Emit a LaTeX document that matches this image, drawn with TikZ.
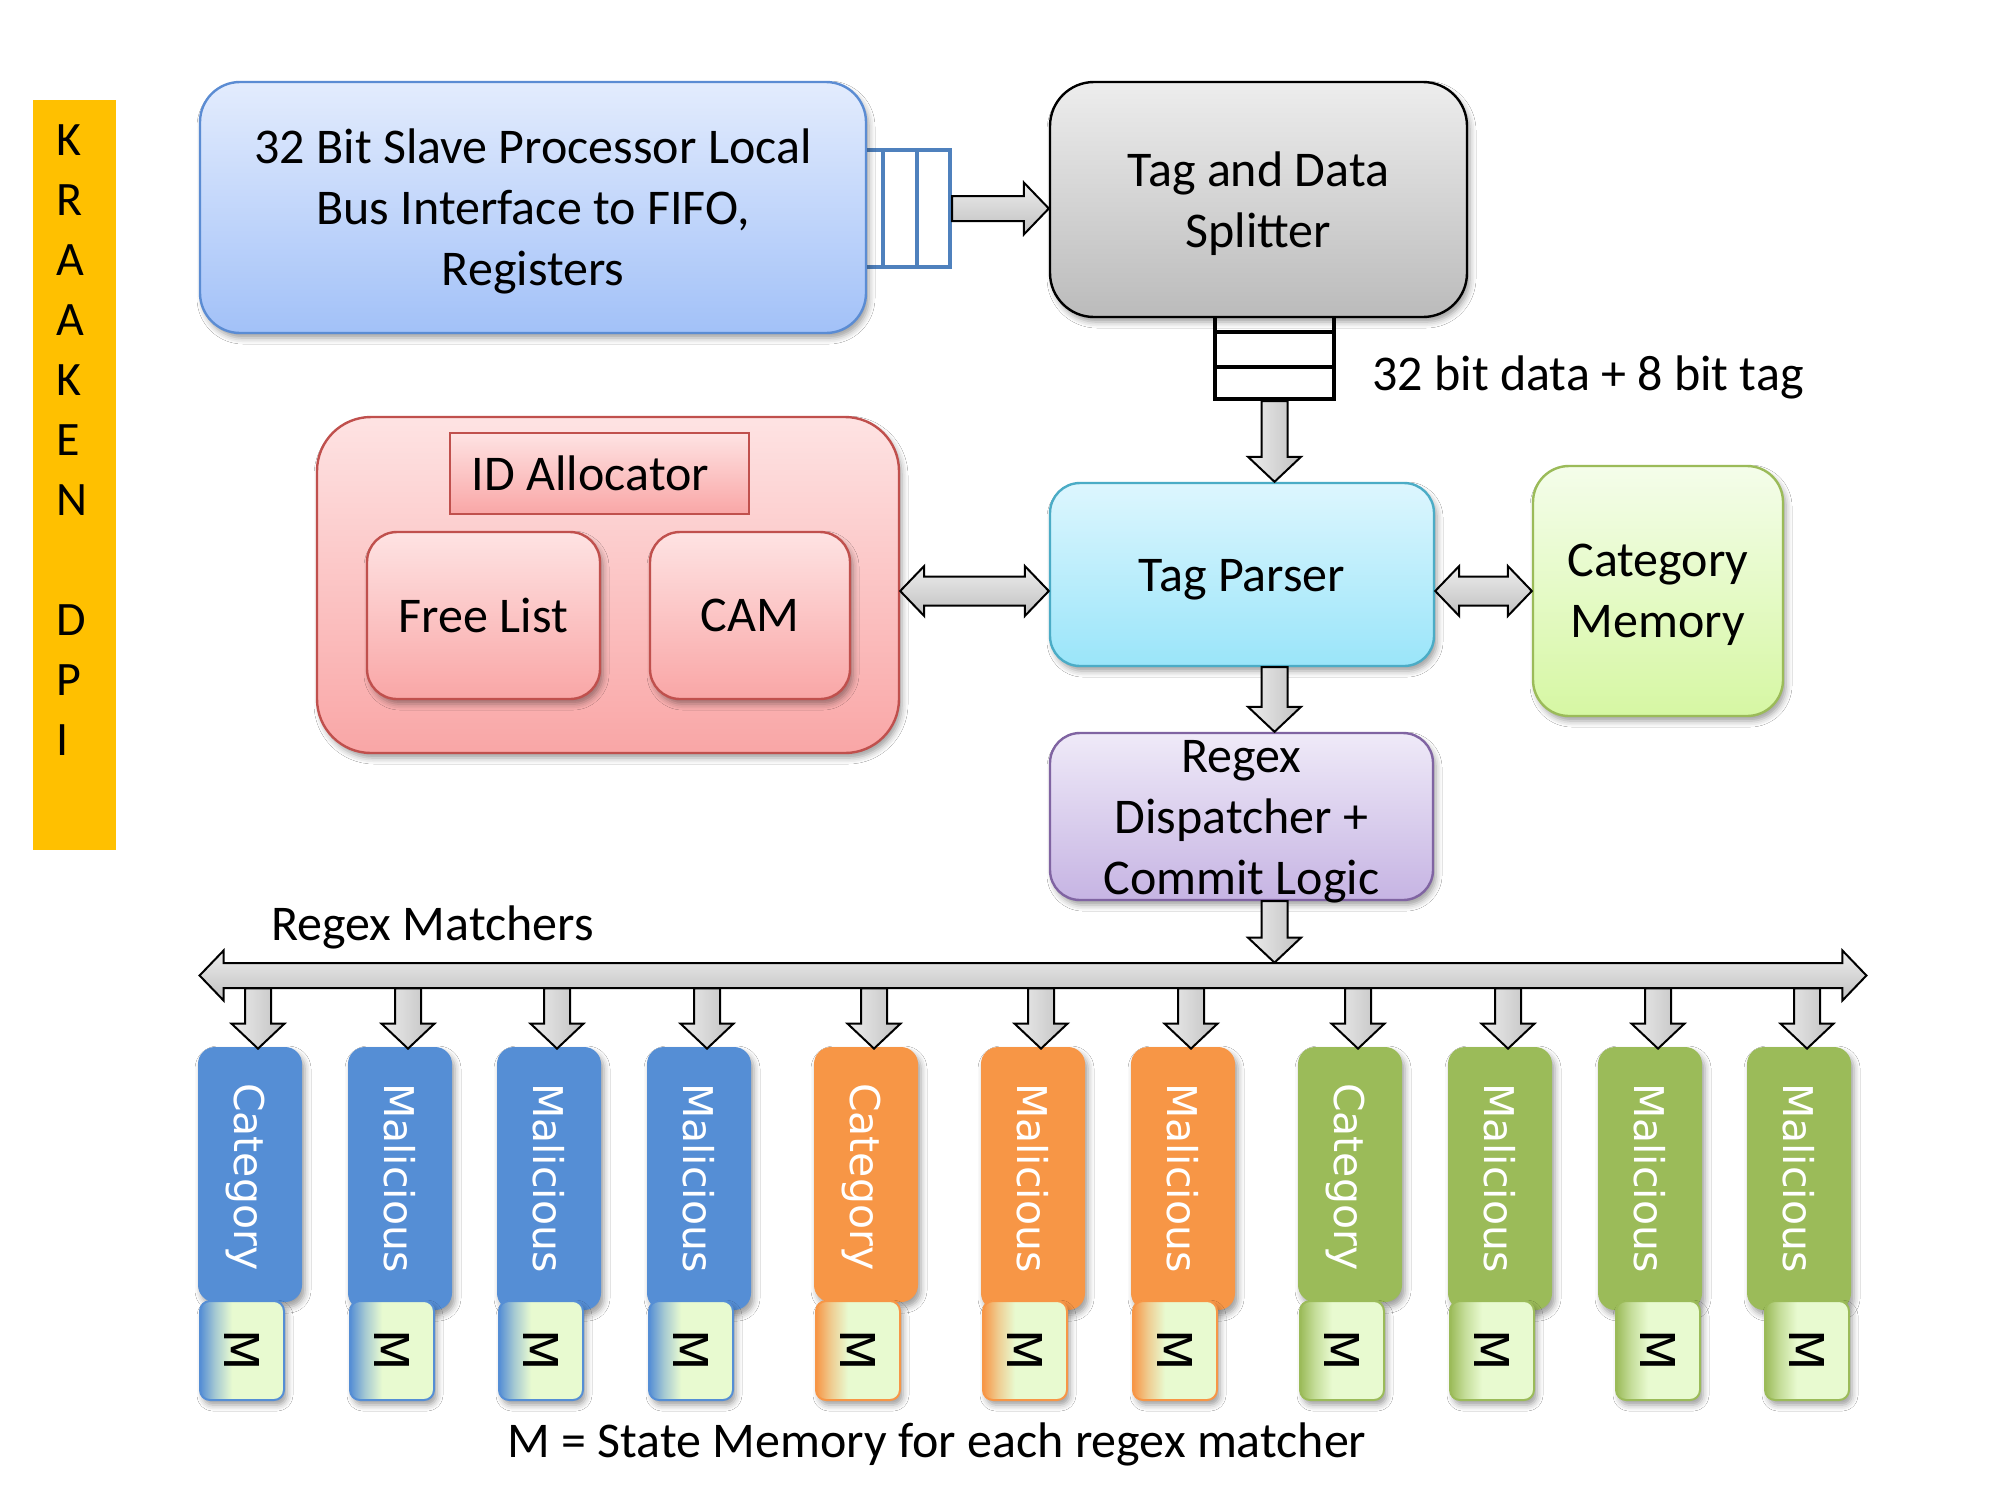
\documentclass[tikz,border=0pt]{standalone}
\usepackage{fontspec}
\usepackage{graphicx}
\setmainfont{Carlito}
\newfontfamily\vfont{DejaVu Sans}
\usetikzlibrary{calc,shadows.blur}

\definecolor{kyellow}{HTML}{FFC000}
\definecolor{bifTop}{HTML}{E3ECFD}\definecolor{bifBot}{HTML}{A2C1F8}\definecolor{bifDraw}{HTML}{5B8CD3}
\definecolor{fifoblue}{HTML}{4F81BD}
\definecolor{grTop}{HTML}{EDEDED}\definecolor{grBot}{HTML}{BBBBBB}
\definecolor{tpTop}{HTML}{DDF6FE}\definecolor{tpBot}{HTML}{9AE5F9}\definecolor{tpDraw}{HTML}{4BACC6}
\definecolor{cmTop}{HTML}{F4FDEA}\definecolor{cmBot}{HTML}{D6F7A3}\definecolor{cmDraw}{HTML}{9BBB59}
\definecolor{rxTop}{HTML}{EFEAF8}\definecolor{rxBot}{HTML}{C6B4E3}\definecolor{rxDraw}{HTML}{8064A2}
\definecolor{rdTop}{HTML}{FEE3E3}\definecolor{rdBot}{HTML}{F9A6A6}\definecolor{rdDraw}{HTML}{C0504D}
\definecolor{colblue}{HTML}{558ED5}\definecolor{colorange}{HTML}{F79646}\definecolor{colgreen}{HTML}{9BBB59}
\definecolor{mlight}{HTML}{E8FAD0}
\definecolor{arrA}{HTML}{EDEDED}\definecolor{arrB}{HTML}{C0C0C0}
\colorlet{midblue}{colblue!45!mlight}
\colorlet{midorange}{colorange!45!mlight}
\colorlet{midgreen}{colgreen!45!mlight}

\pgfdeclarehorizontalshading{mshblue}{100bp}{color(0bp)=(colblue); color(25bp)=(colblue); color(34bp)=(midblue); color(44bp)=(mlight); color(100bp)=(mlight)}
\pgfdeclarehorizontalshading{mshorange}{100bp}{color(0bp)=(colorange); color(25bp)=(colorange); color(34bp)=(midorange); color(44bp)=(mlight); color(100bp)=(mlight)}
\pgfdeclarehorizontalshading{mshgreen}{100bp}{color(0bp)=(colgreen); color(25bp)=(colgreen); color(34bp)=(midgreen); color(44bp)=(mlight); color(100bp)=(mlight)}

\newcommand{\mainfs}{\fontsize{25}{30.5}\selectfont}
\newcommand{\vfs}{\vfont\fontsize{20.5}{20.5}\selectfont}
\newcommand{\mfs}{\vfont\fontsize{24}{24}\selectfont}

% vertical block arrow: x and start y from #1, tip y from #2
\newcommand{\blkdown}[2]{\draw[blkv] let \p1=(#1), \p2=(#2) in
  (\x1-6.5pt,\y1) -- (\x1-6.5pt,\y2+12.5pt) -- (\x1-13.25pt,\y2+12.5pt) -- (\x1,\y2)
  -- (\x1+13.25pt,\y2+12.5pt) -- (\x1+6.5pt,\y2+12.5pt) -- (\x1+6.5pt,\y1) -- cycle;}
% horizontal block arrow: y and start x from #1, tip x from #2
\newcommand{\blkright}[2]{\draw[blkh] let \p1=(#1), \p2=(#2) in
  (\x1,\y1+6.25pt) -- (\x2-12.5pt,\y1+6.25pt) -- (\x2-12.5pt,\y1+13pt) -- (\x2,\y1)
  -- (\x2-12.5pt,\y1-13pt) -- (\x2-12.5pt,\y1-6.25pt) -- (\x1,\y1-6.25pt) -- cycle;}
% double block arrow: left tip #1, right tip x from #2, shaft half #3, head half #4, head length #5
\newcommand{\blkdouble}[5]{\draw[blkh] let \p1=(#1), \p2=(#2) in
  (\x1,\y1) -- (\x1+#5,\y1+#4) -- (\x1+#5,\y1+#3) -- (\x2-#5,\y1+#3) -- (\x2-#5,\y1+#4)
  -- (\x2,\y1) -- (\x2-#5,\y1-#4) -- (\x2-#5,\y1-#3) -- (\x1+#5,\y1-#3) -- (\x1+#5,\y1-#4) -- cycle;}

\begin{document}
\begin{tikzpicture}[x=0.5pt,y=-0.5pt,
  shd/.style={blur shadow={shadow xshift=1.5pt,shadow yshift=-2.5pt,shadow blur radius=3pt,shadow opacity=38}},
  plainbox/.style={draw,line width=1.2pt,inner sep=0pt},
  box/.style={plainbox,shd},
  lbl/.style={inner sep=0pt,font=\mainfs,align=center},
  kletter/.style={anchor=base west,inner sep=0pt,font=\fontsize{24}{24}\selectfont},
  blkv/.style={draw=black,line width=1pt,line join=miter,left color=arrA,right color=arrB},
  blkh/.style={draw=black,line width=1pt,line join=miter,top color=arrA,bottom color=arrB},
  col/.style={inner sep=0pt,minimum width=52pt,rounded corners=8.5pt,shd},
  mbox/.style={shade,line width=1pt,inner sep=0pt,minimum width=42pt,minimum height=49.5pt,rounded corners=5pt,shd},
  vtext/.style={rotate=-90,anchor=base west,inner sep=0pt,font=\vfs},
  mtext/.style={rotate=-90,inner sep=0pt,font=\mfs},
  fifoline/.style={line width=2pt}]
\fill[white] (0,0) rectangle (2000,1500);
\useasboundingbox (0,0) rectangle (2000,1500);

% KRAAKEN DPI bar
\node[fill=kyellow,inner sep=0pt,minimum width=41.5pt,minimum height=375pt] (kbar) at (74.5,475) {};
\foreach \l [count=\i] in {K,R,A,A,K,E,N}
  \node[kletter] (kl\i) at (56,95.5+60*\i) {\l};
\foreach \l [count=\i] in {D,P,I}
  \node[kletter] (kd\i) at (56,575.5+60*\i) {\l};

% FIFOs (behind boxes)
\node[draw=fifoblue,fifoline,fill=white,inner sep=0pt,minimum width=50pt,minimum height=58.5pt] (fifo1) at (900,208.5) {};
\draw[fifoblue,fifoline] ($(fifo1.north west)!1/3!(fifo1.north east)$) -- ($(fifo1.south west)!1/3!(fifo1.south east)$);
\draw[fifoblue,fifoline] ($(fifo1.north west)!2/3!(fifo1.north east)$) -- ($(fifo1.south west)!2/3!(fifo1.south east)$);
\node[draw=black,fifoline,fill=white,inner sep=0pt,minimum width=59.5pt,minimum height=49.5pt] (fifo2) at (1274.5,349.5) {};
\draw[black,fifoline] ($(fifo2.north west)!1/3!(fifo2.south west)$) -- ($(fifo2.north east)!1/3!(fifo2.south east)$);
\draw[black,fifoline] ($(fifo2.north west)!2/3!(fifo2.south west)$) -- ($(fifo2.north east)!2/3!(fifo2.south east)$);

% main boxes
\node[box,draw=bifDraw,top color=bifTop,bottom color=bifBot,rounded corners=20pt,minimum width=333pt,minimum height=125.5pt] (bif) at (533,207.5) {};
\node[lbl] (biftext) at ($(bif.center)+(0,4)$) {32 Bit Slave Processor Local\\Bus Interface to FIFO,\\Registers};
\node[box,draw=black,top color=grTop,bottom color=grBot,rounded corners=22pt,minimum width=208.5pt,minimum height=117.5pt] (gray) at (1258.5,199.5) {};
\node[lbl] (graytext) at ($(gray.center)+(0,4)$) {Tag and Data\\Splitter};
\node[box,draw=tpDraw,top color=tpTop,bottom color=tpBot,rounded corners=15pt,minimum width=192pt,minimum height=91.5pt] (parser) at (1242,574.5) {};
\node[lbl] (parsertext) at ($(parser.center)+(0,5)$) {Tag Parser};
\node[box,draw=cmDraw,top color=cmTop,bottom color=cmBot,rounded corners=18pt,minimum width=125pt,minimum height=125pt] (cmem) at (1658,591) {};
\node[lbl] (cmemtext) at ($(cmem.center)+(0,4)$) {Category\\Memory};
\node[box,draw=rxDraw,top color=rxTop,bottom color=rxBot,rounded corners=15pt,minimum width=191.5pt,minimum height=83.5pt] (regex) at (1241.5,816.5) {};
\node[lbl] (regextext) at ($(regex.center)+(0,5)$) {Regex\\Dispatcher +\\Commit Logic};

% ID allocator group
\node[box,draw=rdDraw,top color=rdTop,bottom color=rdBot,rounded corners=27pt,minimum width=291pt,minimum height=168pt] (red) at (608,585) {};
\node[plainbox,draw=rdDraw,top color=rdTop,bottom color=rdBot,line width=1pt,minimum width=149.5pt,minimum height=40.5pt] (idalloc) at (599.5,473.5) {};
\node[lbl] (idtext) at ($(idalloc.center)+(-9,0)$) {ID Allocator};
\node[box,draw=rdDraw,top color=rdTop,bottom color=rdBot,rounded corners=15pt,minimum width=116.5pt,minimum height=83.5pt,font=\mainfs] (freelist) at (483.5,615.5) {Free List};
\node[box,draw=rdDraw,top color=rdTop,bottom color=rdBot,rounded corners=15pt,minimum width=100pt,minimum height=83.5pt,font=\mainfs] (cam) at (750,615.5) {CAM};

% labels
\node[lbl,anchor=base west] (datalbl) at (1372,390) {32 bit data + 8 bit tag};
\node[lbl,anchor=base west] (rmlbl) at (271,940) {Regex Matchers};
\node[lbl,anchor=base west] (mlbl) at (507,1457) {M = State Memory for each regex matcher};

% connectors
\blkright{fifo1.east}{gray.west}
\blkdown{fifo2.south}{parser.north}
\blkdouble{red.east |- cmem.west}{parser.west}{7.25pt}{12.5pt}{12pt}
\blkdouble{parser.east |- cmem.west}{cmem.west}{7.25pt}{12.5pt}{12pt}
\blkdown{parser.south -| fifo2.south}{regex.north}

% bus
\node[inner sep=0pt,minimum width=833pt,minimum height=12.5pt] (bus) at (1033,975.5) {};
\blkdouble{bus.west}{bus.east}{6.25pt}{12.5pt}{12pt}
\blkdown{regex.south -| fifo2.south}{bus.north}

% regex matchers
\foreach \i/\cx/\txt/\hh/\cy/\clr/\mx in {
  1/250/Category/127.5pt/1174.5/blue/242,
  2/400/Malicious/131.5pt/1178.5/blue/392,
  3/549/Malicious/131.5pt/1178.5/blue/541,
  4/699/Malicious/131.5pt/1178.5/blue/691,
  5/866/Category/127.5pt/1174.5/orange/858,
  6/1033/Malicious/131.5pt/1178.5/orange/1025,
  7/1183/Malicious/131.5pt/1178.5/orange/1175,
  8/1350/Category/127.5pt/1174.5/green/1342,
  9/1500/Malicious/131.5pt/1178.5/green/1492,
  10/1650/Malicious/131.5pt/1178.5/green/1658,
  11/1799/Malicious/131.5pt/1178.5/green/1807}
{
  \node[col,fill=col\clr,minimum height=\hh] (c\i) at (\cx,\cy) {};
  \node[vtext,text=white] (t\i) at ($(c\i.north)+(-16,36)$) {\txt};
  \node[mbox,draw=col\clr,shading=msh\clr] (m\i) at (\mx,1350.5) {};
  \node[mtext] (mt\i) at (m\i.center) {M};
  \coordinate (a\i) at ($(c\i.north)+(8,2)$);
  \blkdown{bus.south -| a\i}{a\i}
}
\end{tikzpicture}
\end{document}
